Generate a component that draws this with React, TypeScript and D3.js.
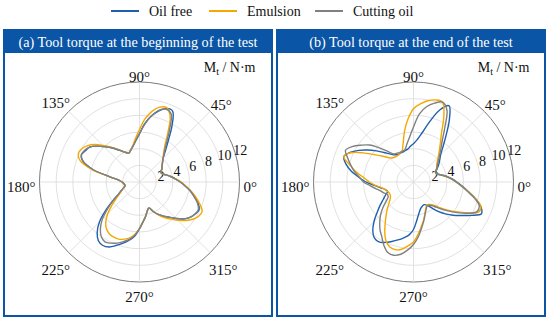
import React from 'react';
import * as d3 from 'd3';

const ANGLES = [0,5,10,15,20,25,30,35,40,45,50,55,60,65,70,75,80,85,90,95,100,105,110,115,120,125,130,135,140,145,150,155,160,165,170,175,180,185,190,195,200,205,210,215,220,225,230,235,240,245,250,255,260,265,270,275,280,285,290,295,300,305,310,315,320,325,330,335,340,345,350,355];

// Panel (a): beginning of the test
const A_OILFREE = [4.9,4.3,3.8,3.3,2.9,2.8,3.1,3.3,3.6,4.0,4.8,6.0,7.8,9.4,9.4,8.8,8.0,7.0,5.8,5.0,4.4,4.0,3.7,3.9,4.3,4.8,5.4,6.0,6.7,7.3,7.5,7.7,7.2,5.8,3.6,2.5,2.1,1.9,1.8,1.8,2.0,2.4,2.9,3.9,5.3,6.8,7.9,8.6,8.8,8.6,8.1,7.6,7.1,6.5,5.6,4.8,4.2,3.6,3.3,3.9,4.5,5.0,5.5,6.2,6.9,7.4,7.7,7.9,7.5,6.8,6.2,5.5];
const A_EMULSION = [5.0,4.4,3.8,3.3,2.9,2.8,3.1,3.3,3.6,4.0,4.5,5.3,6.8,8.7,9.5,9.3,8.6,7.6,6.3,5.3,4.5,4.0,3.7,3.9,4.3,4.9,5.5,6.2,7.0,7.6,8.0,8.1,7.6,6.0,3.7,2.5,2.1,2.0,1.8,1.8,2.0,2.3,2.7,3.4,4.3,5.4,6.3,6.9,7.2,7.3,7.3,7.1,6.8,6.3,5.6,4.8,4.2,3.6,3.3,3.9,4.6,5.2,5.8,6.5,7.2,7.8,8.2,8.3,7.7,7.0,6.3,5.6];
const A_CUTTING = [4.9,4.3,3.8,3.3,2.9,2.8,3.1,3.3,3.6,4.0,4.6,5.6,7.2,9.0,9.3,8.9,8.0,6.9,5.8,5.0,4.4,4.0,3.7,3.9,4.3,4.8,5.4,6.0,6.7,7.3,7.6,7.7,7.2,5.8,3.6,2.5,2.1,1.9,1.8,1.8,2.0,2.4,2.9,3.8,5.0,6.3,7.3,8.0,8.3,8.1,7.8,7.4,7.0,6.4,5.6,4.8,4.2,3.6,3.3,3.9,4.5,5.0,5.5,6.2,6.9,7.4,7.7,7.8,7.4,6.8,6.2,5.5];

// Panel (b): end of the test
const B_OILFREE = [5.2,4.6,4.0,3.4,3.0,3.0,3.3,3.7,4.1,4.6,5.5,6.8,8.6,10.1,9.2,7.5,6.0,5.1,4.6,4.3,4.0,3.9,3.8,3.8,3.8,4.0,4.4,5.0,5.8,6.7,7.6,8.4,8.9,8.4,7.6,6.6,5.7,4.7,4.0,3.5,3.3,3.7,4.2,4.9,5.7,6.7,7.6,8.2,8.3,8.0,7.6,7.2,6.8,6.4,5.7,4.6,3.8,3.3,3.1,3.0,3.2,3.8,4.6,5.4,6.2,7.0,8.0,9.0,8.6,7.7,6.7,5.9];
const B_EMULSION = [5.1,4.5,3.9,3.3,2.9,2.9,3.2,3.4,3.7,4.2,4.8,5.6,6.7,8.6,10.2,10.2,9.9,9.4,8.8,7.6,6.2,4.8,4.0,3.8,3.7,3.7,3.8,4.1,4.8,5.7,7.0,8.3,8.9,7.9,7.0,6.0,5.3,4.6,3.9,3.5,3.3,3.2,3.2,3.4,3.8,4.4,5.1,5.9,6.9,7.8,8.3,8.4,8.2,7.7,7.2,6.3,5.4,4.7,4.0,3.5,3.2,3.3,3.6,4.3,5.2,6.2,7.4,8.6,8.6,7.7,6.7,5.8];
const B_CUTTING = [5.1,4.5,3.9,3.3,2.9,2.9,3.2,3.5,3.9,4.4,5.1,6.0,7.5,9.5,10.2,9.8,9.2,8.2,6.6,5.4,4.6,4.0,3.9,3.9,4.0,4.1,4.8,5.8,6.9,7.7,8.5,9.0,8.4,7.8,7.2,6.5,6.0,5.2,4.6,4.1,3.8,3.5,3.5,4.0,4.8,5.6,6.3,7.0,7.6,8.4,9.0,9.1,8.8,8.2,7.5,6.6,5.6,4.8,4.1,3.6,3.3,3.4,3.8,4.5,5.4,6.4,7.5,8.4,8.4,7.6,6.6,5.8];

const SERIES_NAMES = ['Oil free', 'Emulsion', 'Cutting oil'];
const SERIES_COLORS = ['#1f5fae', '#f5a800', '#808080'];
const R_TICKS = [2, 4, 6, 8, 10, 12];
const THETA_TICKS = [0, 45, 90, 135, 180, 225, 270, 315];
const PANEL_TITLES = ['(a) Tool torque at the beginning of the test', '(b) Tool torque at the end of the test'];
const PANEL_DATA = [[A_OILFREE, A_EMULSION, A_CUTTING], [B_OILFREE, B_EMULSION, B_CUTTING]];

const FONT = "Liberation Serif, Tinos, 'Times New Roman', 'DejaVu Serif', serif";
const FRAME = '#0a55a5';

function Polar({ cx, cy, data }: { cx: number; cy: number; data: number[][] }) {
  const R = 100;
  const r = d3.scaleLinear().domain([0, 12]).range([0, R]);
  const line = d3
    .lineRadial<[number, number]>()
    .angle((d) => ((90 - d[0]) * Math.PI) / 180)
    .radius((d) => r(d[1]))
    .curve(d3.curveCatmullRomClosed.alpha(0.5));
  const rad = (deg: number) => (deg * Math.PI) / 180;
  const labelAngle = 18;
  const fs = 15;
  return (
    <g transform={`translate(${cx},${cy})`}>
      {R_TICKS.map((t) => (
        <circle key={t} r={r(t)} fill="none" stroke={t === 12 ? '#7a7a7a' : '#d9d9d9'} strokeWidth={t === 12 ? 1 : 0.8} />
      ))}
      {THETA_TICKS.map((a) => (
        <line key={a} x1={0} y1={0} x2={R * Math.cos(rad(a))} y2={-R * Math.sin(rad(a))} stroke="#d9d9d9" strokeWidth={0.8} />
      ))}
      {THETA_TICKS.map((a) => {
        const label = `${a}°`;
        const hw = ((String(a).length * 0.5 + 0.4) * fs) / 2;
        const c = Math.cos(rad(a));
        const s = Math.sin(rad(a));
        const rr = R + 4 + hw * Math.abs(c) + 6 * Math.abs(s);
        return (
          <text key={a} x={rr * c} y={-rr * s + 4.5} textAnchor="middle" dominantBaseline="central" fontSize={fs} fill="#111">
            {label}
          </text>
        );
      })}
      {R_TICKS.map((t) => {
        const rr = r(t) + 6;
        return (
          <text key={t} x={rr * Math.cos(rad(labelAngle))} y={-rr * Math.sin(rad(labelAngle)) + 1.5} textAnchor="middle" dominantBaseline="central" fontSize={14} fill="#111">
            {t}
          </text>
        );
      })}
      <text x={116} y={-110} textAnchor="end" fontSize={14} fill="#111">
        M<tspan dy={3} fontSize={10}>t</tspan>
        <tspan dy={-3}> / N·m</tspan>
      </text>
      {data.map((vals, i) => {
        const pts: [number, number][] = ANGLES.map((a, j) => [a, vals[j]]);
        return <path key={i} d={line(pts) || ''} fill="none" stroke={SERIES_COLORS[i]} strokeWidth={1.4} />;
      })}
    </g>
  );
}

export default function App() {
  const legendX = [111, 209, 315];
  const panels = [
    { x: 4, cx: 139.5 },
    { x: 277, cx: 413.5 },
  ];
  return (
    <svg width={550} height={321} style={{ position: 'absolute', left: 0, top: 0, background: '#fff', fontFamily: FONT }}>
      {SERIES_NAMES.map((n, i) => (
        <g key={n}>
          <line x1={legendX[i]} x2={legendX[i] + 28} y1={11} y2={11} stroke={SERIES_COLORS[i]} strokeWidth={2} />
          <text x={legendX[i] + 38} y={15.5} fontSize={14} fill="#111">
            {n}
          </text>
        </g>
      ))}
      {panels.map((p, k) => (
        <g key={k}>
          <rect x={p.x} y={30} width={268} height={286} fill="#fff" stroke={FRAME} strokeWidth={2} />
          <rect x={p.x - 1} y={29} width={270} height={24} fill={FRAME} />
          <text x={p.x + 134} y={46.5} textAnchor="middle" fontSize={14.2} fill="#fff">
            {PANEL_TITLES[k]}
          </text>
          <Polar cx={p.cx} cy={182} data={PANEL_DATA[k]} />
        </g>
      ))}
    </svg>
  );
}
